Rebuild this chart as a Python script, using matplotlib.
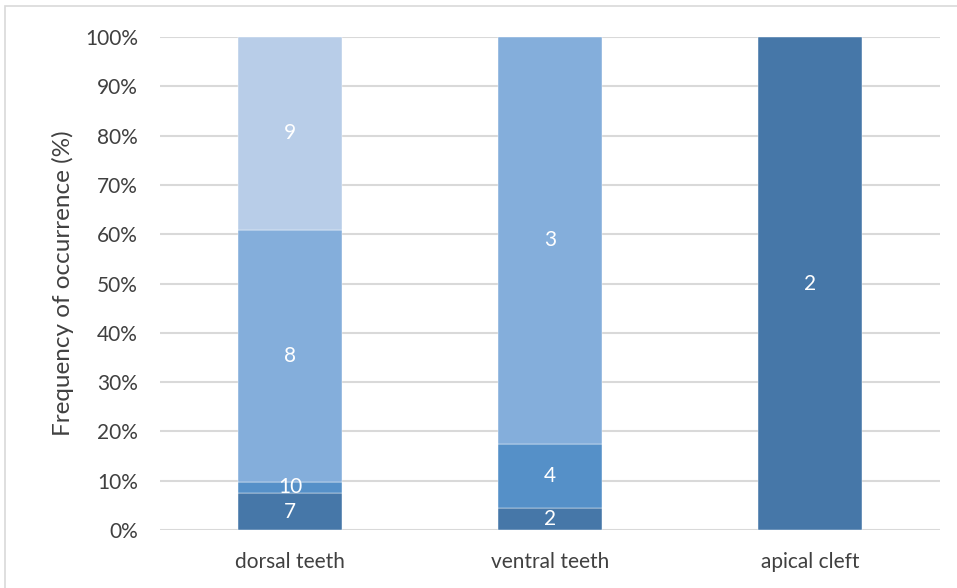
import matplotlib.pyplot as plt
import numpy as np

# bar categories and stacked segments (percent of occurrence, bottom to top)
categories = ["dorsal teeth", "ventral teeth", "apical cleft"]
dorsal_pct = [7.5, 2.3, 51.1, 39.1]
dorsal_lbl = ["7", "10", "8", "9"]
ventral_pct = [4.5, 13.0, 82.5]
ventral_lbl = ["2", "4", "3"]
apical_pct = [100.0]
apical_lbl = ["2"]

segments = [dorsal_pct, ventral_pct, apical_pct]
labels = [dorsal_lbl, ventral_lbl, apical_lbl]
colors = ["#4677a8", "#5590c8", "#84aedb", "#b8cde8"]
yticks = np.arange(0, 101, 10)

plt.rcParams["font.family"] = ["Lato", "DejaVu Sans"]

fig = plt.figure(figsize=(9.57, 5.88), dpi=100)
ax = fig.add_axes([160 / 957, 1 - 530 / 588, 780 / 957, 493 / 588])

x = np.arange(len(categories))
for i, (vals, lbls) in enumerate(zip(segments, labels)):
    bottom = 0
    for j, (v, t) in enumerate(zip(vals, lbls)):
        ax.bar(x[i], v, 0.4, bottom=bottom, color=colors[j], zorder=2,
               edgecolor="white", linewidth=0.3)
        ax.text(x[i], bottom + v / 2, t, ha="center", va="center",
                color="white", fontsize=15, zorder=3)
        bottom += v

ax.set_xlim(-0.5, len(categories) - 0.5)
ax.set_ylim(0, 100)
ax.set_yticks(yticks)
ax.set_yticklabels([f"{v}%" for v in yticks])
ax.set_xticks(x)
ax.set_xticklabels(categories)
ax.tick_params(length=0, labelsize=15, colors="#404040")
ax.tick_params(axis="y", pad=16)
ax.tick_params(axis="x", pad=16)
ax.yaxis.grid(True, color="#d9d9d9", linewidth=1.5, zorder=0)
for s in ax.spines.values():
    s.set_visible(False)
ax.set_ylabel("Frequency of occurrence (%)", fontsize=17.5, color="#404040", labelpad=8)

# chart border
fig.patches.append(plt.Rectangle((5 / 957, -0.01), 1, 1 - 6 / 588 + 0.01,
                                 transform=fig.transFigure, fill=False,
                                 edgecolor="#d9d9d9", linewidth=1.2))

fig.savefig("out.png", dpi=100)
